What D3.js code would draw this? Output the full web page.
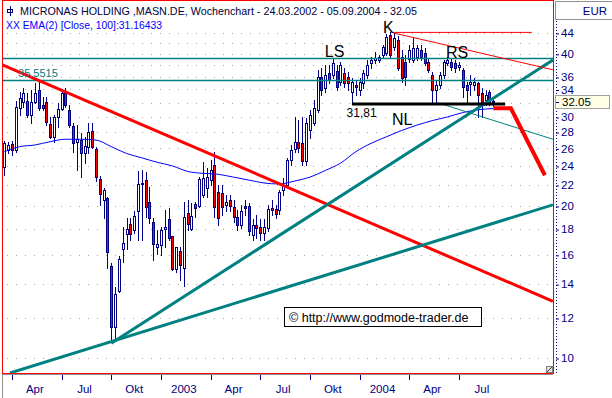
<!DOCTYPE html>
<html>
<head>
<meta charset="utf-8">
<script src="https://cdn.jsdelivr.net/npm/d3@7"></script>
<style>
  body { margin: 0; background: #fff; }
  svg { display: block; font-family: Arial, "Liberation Sans", sans-serif; }
</style>
</head>
<body>
<div id="chart"></div>
<script>
// weekly candles, first week 24.03.2002
var startDate = new Date(2002, 2, 24);
var titleName = "MICRONAS HOLDING ,MASN.DE, Wochenchart";
var emaLabel = "XX EMA(2) [Close, 100]:";
var emaLast = 31.16433;

var opens = [23.9,25.8,26.5,25.8,31.3,32.1,32.3,30.3,32.1,33.9,
  31.7,32.1,29.1,27.4,30.0,31.1,33.5,31.0,28.8,26.8,
  27.0,25.4,26.1,28.1,25.9,22.6,20.5,20.7,15.2,11.5,
  13.6,16.4,17.6,18.4,17.9,19.5,22.1,22.5,20.4,18.6,
  16.6,16.7,18.0,18.8,17.4,15.0,16.3,15.1,19.4,18.0,
  20.2,20.0,21.0,21.7,22.5,24.1,21.3,21.2,20.1,20.5,
  19.9,19.0,18.3,20.0,20.0,17.5,18.3,18.2,17.7,18.1,
  19.8,19.7,19.6,21.5,22.0,24.7,25.9,26.8,26.6,24.5,
  28.3,29.2,31.0,36.0,34.2,36.7,36.3,37.0,35.2,36.7,
  36.0,33.6,34.7,33.9,35.0,36.3,38.4,38.9,38.9,39.8,
  40.1,43.6,41.2,42.6,39.4,38.6,39.1,38.9,39.4,40.7,
  40.1,38.6,36.3,33.9,34.7,36.3,38.4,38.6,38.4,37.7,
  37.2,34.7,34.9,34.7,35.0,33.5,32.4,33.6,32.3];
var highs = [26.9,26.8,26.9,32.3,33.6,34.2,33.5,33.9,35.0,35.5,
  32.9,32.9,30.0,30.3,32.0,33.8,34.2,31.7,29.2,28.9,
  27.9,27.4,29.2,29.2,26.1,22.9,21.7,20.8,15.4,13.8,
  15.9,18.2,18.9,18.9,19.5,23.4,23.6,23.3,21.8,18.9,
  17.9,18.2,19.6,19.8,17.4,16.6,16.6,20.4,20.5,20.3,
  20.4,22.8,24.4,23.8,24.7,25.6,22.0,22.0,21.0,21.0,
  20.5,19.6,20.1,20.5,20.3,18.8,19.2,18.8,18.8,20.1,
  20.5,20.1,21.5,22.7,24.9,26.4,30.0,29.6,30.0,29.8,
  31.0,32.4,37.2,37.5,38.0,38.0,39.3,38.0,38.6,37.5,
  36.9,35.8,35.5,35.8,37.2,38.9,39.4,40.3,39.8,41.6,
  43.8,44.2,44.0,43.4,40.7,39.8,41.6,43.0,41.6,41.6,
  41.1,39.3,36.9,35.5,36.9,38.9,39.4,39.3,38.9,38.6,
  37.5,35.2,36.3,35.8,35.2,34.2,33.9,33.9,32.7];
var lows = [23.0,25.4,25.2,25.6,30.3,31.4,30.0,29.2,32.0,31.0,
  31.0,28.9,27.2,26.8,28.6,31.0,31.4,28.6,25.6,23.6,
  22.8,24.3,25.4,26.0,22.4,20.1,18.9,15.1,10.8,10.9,
  13.5,15.5,16.4,17.1,17.7,17.1,17.1,19.0,18.5,15.6,
  16.1,16.0,16.6,17.1,14.9,14.8,14.3,13.9,17.9,17.9,
  19.0,19.9,20.8,20.8,22.0,19.0,18.3,19.2,19.5,19.5,
  18.6,17.9,18.1,19.2,17.5,17.1,17.3,17.1,17.1,17.8,
  19.2,18.9,19.3,21.0,21.8,24.1,25.6,25.6,24.1,24.1,
  27.2,28.9,30.7,33.2,33.6,35.0,35.8,33.9,34.7,34.4,
  33.9,31.9,33.2,33.2,34.2,35.8,37.5,38.4,38.6,39.4,
  39.8,39.3,40.7,37.2,35.2,34.7,38.6,38.6,38.9,38.9,
  38.0,36.9,31.9,31.9,34.2,35.8,38.0,37.2,36.9,37.2,
  32.9,31.9,33.2,33.9,30.0,30.0,31.7,31.7,31.6];
var closes = [26.6,26.4,25.8,31.4,32.7,33.5,30.3,32.1,33.5,31.3,
  31.3,29.3,27.4,30.0,31.1,33.5,31.7,28.9,26.6,27.1,
  25.4,26.3,28.0,26.1,22.8,21.1,21.5,16.2,11.5,13.4,
  15.7,16.9,18.0,17.6,19.1,22.1,22.2,19.9,18.9,16.8,
  16.8,17.9,18.2,17.3,15.0,16.6,15.3,19.0,18.4,19.1,
  19.8,22.6,22.7,22.8,23.6,19.9,18.9,19.9,20.4,20.0,
  19.0,18.3,19.5,19.8,17.8,18.3,18.1,17.7,18.2,19.7,
  19.6,19.3,21.3,22.0,24.7,25.8,26.8,26.0,24.5,29.2,
  30.3,31.3,36.0,33.9,36.3,35.5,38.4,34.4,38.0,35.0,
  35.0,35.2,34.4,35.2,36.7,38.0,38.9,39.3,39.5,41.2,
  43.2,39.8,43.0,37.5,35.8,36.0,40.7,41.1,41.1,39.4,
  38.4,37.2,33.9,34.7,36.3,38.6,38.9,37.7,37.5,38.0,
  34.4,33.9,35.2,35.2,33.2,32.1,33.2,32.1,32.05];

// EMA(100) read every 4th week
var emaStep = 4;
var emaValues = [25.6,26.2,26.4,26.8,27.1,27.1,27.0,26.2,25.4,24.9,
  24.4,24.0,23.4,23.2,23.1,22.8,22.5,22.2,22.1,22.4,
  22.8,23.5,24.3,25.6,26.6,27.4,28.2,28.9,29.5,30.0,
  30.6,31.0,emaLast];

var yTicks = [44,40,36,34,30,28,26,24,22,20,18,16,14,12,10];
var gridValues = [10,12,14,16,18,20,22,24,26,28,30,32,34,36,38,40,42,44];
var monthNames = ["Jan","Feb","Mär","Apr","Mai","Jun","Jul","Aug","Sep","Okt","Nov","Dez"];

// drawn objects, [week index, price]
var levels = [39.2, 35.5515];
var levelLabel = [3.6, 36.0];
var resistLong = [[-0.5, 38.05], [143.6, 12.95]];
var supportFlat = [[1.5, 9.34], [143.6, 20.1]];
var supportSteep = [[28, 10.7], [143.6, 38.9]];
var headTop = [[101.8, 44.1], [138.1, 44.1]];
var headSlope = [[101.8, 44.0], [143.6, 37.2]];
var neckSlope = [[113.5, 32.0], [143.6, 27.1]];
var neckLine = [[91.0, 31.81], [131.1, 31.81]];
var projection = [[128, 31.2], [132.6, 31.2], [141.5, 23.0]];
var marks = [
  {text: "K", at: [99.1, 44.0]},
  {text: "LS", at: [83.9, 39.4]},
  {text: "RS", at: [115.6, 39.2]},
  {text: "NL", at: [101.5, 28.9]}
];
var neckText = {text: "31,81", at: [89.6, 30.0]};

var width = 612, height = 398;
var plot = {left: 3, top: 1, right: 553, bottom: 373};
var navy = "#000080", teal = "#008080";

var x = d3.scaleLinear().domain([0, 128]).range([4.3, 493.3]);
var y = d3.scaleLog().domain([10, 44]).range([358, 32.9]);

var fmt = d3.timeFormat("%d.%m.%Y");
var dates = closes.map(function(c, i) { return d3.timeDay.offset(startDate, 7 * i); });

var svg = d3.select("#chart").append("svg")
    .attr("width", width)
    .attr("height", height);

svg.append("clipPath").attr("id", "clip")
  .append("rect")
    .attr("x", plot.left).attr("y", plot.top)
    .attr("width", plot.right - plot.left).attr("height", plot.bottom - plot.top);

var crisp = function(v) { return Math.round(v) + 0.5; };

// dotted grid
svg.append("g").selectAll("line")
  .data(gridValues)
  .enter().append("line")
    .attr("x1", plot.left + 4).attr("x2", plot.right)
    .attr("y1", function(d) { return crisp(y(d)); })
    .attr("y2", function(d) { return crisp(y(d)); })
    .attr("stroke", "#a8a8a8")
    .attr("stroke-dasharray", "1,8");

var chart = svg.append("g").attr("clip-path", "url(#clip)");

// candles
var candles = chart.append("g").selectAll("g")
  .data(closes)
  .enter().append("g");

candles.append("line")
    .attr("x1", function(d, i) { return Math.round(x(i)) + 0.5; })
    .attr("x2", function(d, i) { return Math.round(x(i)) + 0.5; })
    .attr("y1", function(d, i) { return Math.round(y(highs[i])); })
    .attr("y2", function(d, i) { return Math.round(y(lows[i])) + 1; })
    .attr("stroke", navy);

candles.append("rect")
    .attr("x", function(d, i) { return Math.round(x(i)) - 0.5; })
    .attr("y", function(d, i) { return Math.round(y(Math.max(opens[i], d))) + 0.5; })
    .attr("width", 2)
    .attr("height", function(d, i) {
      return Math.max(0, Math.round(y(Math.min(opens[i], d))) - Math.round(y(Math.max(opens[i], d))));
    })
    .attr("fill", function(d, i) { return d < opens[i] ? "#ff0000" : "#ffffff"; })
    .attr("stroke", navy);

// EMA 100
var emaLine = d3.line()
    .curve(d3.curveMonotoneX)
    .x(function(d, i) { return x(Math.min(i * emaStep, 128)); })
    .y(function(d) { return y(d); });

chart.append("path")
    .datum(emaValues)
    .attr("d", emaLine)
    .attr("fill", "none")
    .attr("stroke", "#0000ff")
    .attr("stroke-width", 1);

// drawn lines
var segLine = d3.line()
    .x(function(d) { return x(d[0]); })
    .y(function(d) { return y(d[1]); });

chart.selectAll(".level")
  .data(levels)
  .enter().append("line")
    .attr("class", "level")
    .attr("x1", plot.left).attr("x2", plot.right)
    .attr("y1", function(d) { return crisp(y(d)); })
    .attr("y2", function(d) { return crisp(y(d)); })
    .attr("stroke", teal)
    .attr("stroke-width", 1.3);

function drawSeg(pts, color, w) {
  chart.append("path")
      .datum(pts)
      .attr("d", segLine)
      .attr("fill", "none")
      .attr("stroke", color)
      .attr("stroke-width", w)
      .attr("stroke-linejoin", "miter");
}

drawSeg(resistLong, "#ff0000", 3);
drawSeg(supportFlat, teal, 3);
drawSeg(supportSteep, teal, 3);
drawSeg(headTop, "#ff0000", 1);
drawSeg(headSlope, "#ff0000", 1);
drawSeg(neckSlope, teal, 1);
drawSeg(neckLine, "#000000", 3);
drawSeg(projection, "#ff0000", 4);

// labels on chart
svg.append("text")
    .attr("x", x(levelLabel[0])).attr("y", y(levelLabel[1]))
    .attr("fill", teal).attr("font-size", 11)
    .text(d3.format(".4f")(levels[1]));

svg.selectAll(".mark")
  .data(marks)
  .enter().append("text")
    .attr("class", "mark")
    .attr("x", function(d) { return x(d.at[0]); })
    .attr("y", function(d) { return y(d.at[1]); })
    .attr("font-size", 16)
    .attr("fill", "#000")
    .text(function(d) { return d.text; });

svg.append("text")
    .attr("x", x(neckText.at[0])).attr("y", y(neckText.at[1]))
    .attr("font-size", 12)
    .attr("fill", "#000")
    .text(neckText.text);

// watermark
var wm = svg.append("g");
wm.append("rect")
    .attr("x", 284.5).attr("y", 307.5)
    .attr("width", 197).attr("height", 19)
    .attr("fill", "#fff").attr("stroke", "#000");
wm.append("text")
    .attr("x", 289).attr("y", 321.5)
    .attr("font-size", 12.5)
    .text("\u00a9  http://www.godmode-trader.de");

// title
var head = svg.append("g");
head.append("rect").attr("x", 7.5).attr("y", 9.5).attr("width", 5).attr("height", 3)
    .attr("fill", "none").attr("stroke", navy);
head.append("line").attr("x1", 10.5).attr("x2", 10.5).attr("y1", 6).attr("y2", 16)
    .attr("stroke", navy);
head.append("text")
    .attr("x", 20).attr("y", 15)
    .attr("font-size", 11.5)
    .attr("fill", "#000040")
    .attr("textLength", 397)
    .attr("lengthAdjust", "spacingAndGlyphs")
    .text(titleName + " - " + fmt(dates[0]) + " - " + fmt(dates[dates.length - 1]) +
          " - " + d3.format(".2f")(closes[closes.length - 1]));
head.append("text")
    .attr("x", 6).attr("y", 28.5)
    .attr("font-size", 11.5)
    .attr("fill", "#0000ff")
    .attr("textLength", 156)
    .attr("lengthAdjust", "spacingAndGlyphs")
    .text(emaLabel + emaLast);

// frame
svg.append("rect")
    .attr("x", 2.5).attr("y", 0.5)
    .attr("width", plot.right - 2).attr("height", plot.bottom)
    .attr("fill", "none").attr("stroke", "#ff0000");

svg.append("rect")
    .attr("x", 546.5).attr("y", 366.5).attr("width", 6).attr("height", 6)
    .attr("fill", "#e0e0e0").attr("stroke", "#808080");
svg.append("line")
    .attr("x1", 547).attr("y1", 372).attr("x2", 552).attr("y2", 367)
    .attr("stroke", "#404040");

// right axis
var axisR = svg.append("g");
axisR.append("path")
    .attr("d", "M555.5,19V1.5H612M555,19.5H612")
    .attr("fill", "none").attr("stroke", "#909090");
axisR.append("text")
    .attr("x", 607).attr("y", 15)
    .attr("text-anchor", "end")
    .attr("font-size", 11.5)
    .attr("fill", navy)
    .text("EUR");
axisR.append("line")
    .attr("x1", 556.5).attr("x2", 556.5)
    .attr("y1", 21).attr("y2", plot.bottom)
    .attr("stroke", navy)
    .attr("stroke-dasharray", "1,2");

var yAxis = d3.axisRight(y)
    .tickValues(yTicks)
    .tickSize(3)
    .tickPadding(2)
    .tickFormat(d3.format("d"));

var gy = axisR.append("g")
    .attr("transform", "translate(556,0)")
    .call(yAxis);
gy.select(".domain").remove();
gy.selectAll(".tick line").attr("stroke", navy)
    .attr("transform", function() { return "translate(0,0.5)"; });
gy.selectAll(".tick text")
    .attr("font-family", "Arial, 'Liberation Sans', sans-serif")
    .attr("font-size", 11.5)
    .attr("fill", navy);

var lastClose = closes[closes.length - 1];
axisR.append("rect")
    .attr("x", 555.5).attr("y", Math.round(y(lastClose)) - 6.5)
    .attr("width", 54).attr("height", 13)
    .attr("fill", "#ffffe6").attr("stroke", "#a0a0a0");
axisR.append("line")
    .attr("x1", 556).attr("x2", 559)
    .attr("y1", crisp(y(lastClose))).attr("y2", crisp(y(lastClose)))
    .attr("stroke", navy);
axisR.append("text")
    .attr("x", 562).attr("y", y(lastClose))
    .attr("dy", "0.35em")
    .attr("font-size", 11.5)
    .attr("fill", "#000")
    .text(d3.format(".2f")(lastClose));

// bottom axis
var qIdx = [];
dates.forEach(function(d, i) {
  if (d.getMonth() % 3 === 0 && i > 0 && dates[i - 1].getMonth() !== d.getMonth()) qIdx.push(i);
});

var axisB = svg.append("g");
axisB.append("path")
    .attr("d", "M2,374.5H553M2.5,374V398")
    .attr("fill", "none").attr("stroke", "#909090");

axisB.selectAll(".qtick")
  .data(qIdx)
  .enter().append("line")
    .attr("class", "qtick")
    .attr("x1", function(d) { return Math.round(x(d)) + 0.5; })
    .attr("x2", function(d) { return Math.round(x(d)) + 0.5; })
    .attr("y1", 375).attr("y2", 380)
    .attr("stroke", navy);

axisB.selectAll(".qlabel")
  .data(qIdx)
  .enter().append("text")
    .attr("class", "qlabel")
    .attr("x", function(d) { return x(d + 6); })
    .attr("y", 393)
    .attr("text-anchor", "middle")
    .attr("font-size", 11.5)
    .attr("fill", navy)
    .text(function(d) {
      var m = dates[d].getMonth();
      return m === 0 ? dates[d].getFullYear() : monthNames[m];
    });
</script>
</body>
</html>
